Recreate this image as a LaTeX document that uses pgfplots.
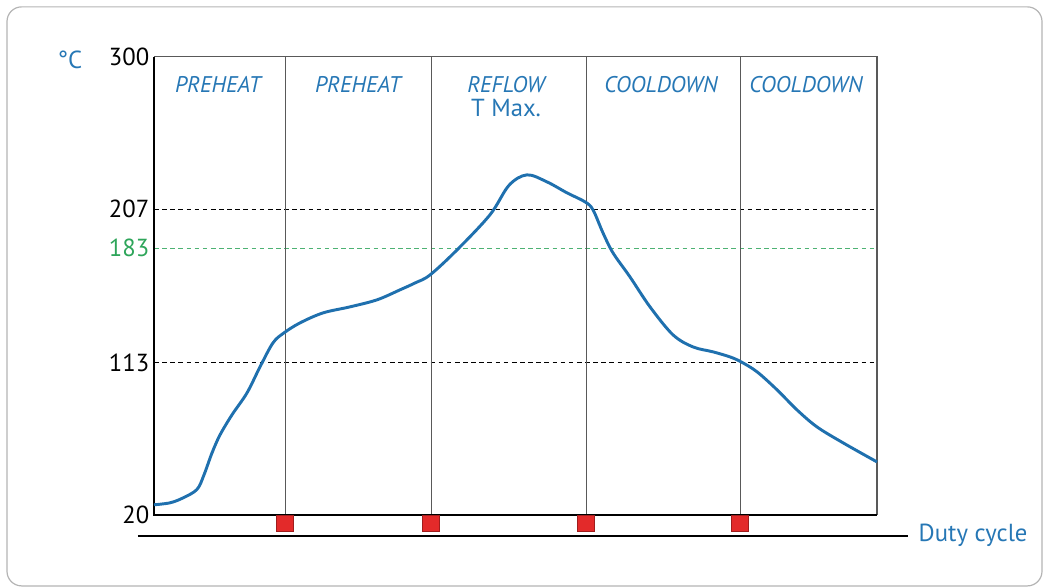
\documentclass[border=0pt]{standalone}
\usepackage{fontspec}
\setmainfont{PT Sans}
\usepackage{pgfplots}
\pgfplotsset{compat=1.18}

\definecolor{curveblue}{HTML}{1F70AE}
\definecolor{textblue}{HTML}{2677B5}
\definecolor{liquidus}{HTML}{2EA55A}
\definecolor{padred}{HTML}{E32A2A}
\definecolor{framegray}{HTML}{B4B4B4}
\newcommand\lab{\fontsize{18.5pt}{22pt}\selectfont}
\newcommand\zone{\fontsize{17pt}{20pt}\selectfont\itshape}

\begin{document}
\begin{tikzpicture}
\begin{axis}[
  scale only axis,
  width=542.25pt, height=343.5pt,
  xmin=0, xmax=723, ymin=20, ymax=300,
  clip=false,
  axis line style={draw=none},
  xtick=\empty,
  ytick={20,113,183,207,300},
  yticklabels={20,113,{\color{liquidus}183},207,300},
  major tick length=0pt,
  yticklabel style={font=\lab, anchor=east, xshift=0pt},
  /pgf/number format/assume math mode=true,
]
% page area, frame and baseline
\path (axis cs:-154,334.8) rectangle (axis cs:895,-24.6);
\draw[framegray, line width=0.9pt, rounded corners=11pt]
  (axis cs:-147,330.6) rectangle (axis cs:888,-23.4);
\draw[line width=1.5pt] (axis cs:-16,7.2) -- (axis cs:754,7.2);
\node[anchor=west, text=textblue, font=\lab] at (axis cs:760,7.8) {Duty cycle};
\node[text=textblue, font=\lab] at (axis cs:-84,298.5) {°C};

% reference temperatures
\draw[black, line width=0.6pt, dash pattern=on 3.5pt off 2.6pt] (axis cs:0,207) -- (axis cs:723,207);
\draw[black, line width=0.6pt, dash pattern=on 3.5pt off 2.6pt] (axis cs:0,113) -- (axis cs:723,113);
\draw[liquidus!85, line width=0.6pt, dash pattern=on 3.5pt off 2.6pt] (axis cs:0,183) -- (axis cs:723,183);

% zone separators
\draw[black!65, line width=0.7pt] (axis cs:131,20) -- (axis cs:131,300);
\draw[black!65, line width=0.7pt] (axis cs:277,20) -- (axis cs:277,300);
\draw[black!65, line width=0.7pt] (axis cs:432,20) -- (axis cs:432,300);
\draw[black!65, line width=0.7pt] (axis cs:586,20) -- (axis cs:586,300);

% axis box
\draw[black!65, line width=0.8pt] (axis cs:0,300) -- (axis cs:723,300) -- (axis cs:723,20);
\draw[black, line width=1.4pt] (axis cs:0,300) -- (axis cs:0,20) -- (axis cs:723,20);

% zone names
\node[text=textblue, font=\zone] at (axis cs:64,282.9) {PREHEAT};
\node[text=textblue, font=\zone] at (axis cs:204,282.9) {PREHEAT};
\node[text=textblue, font=\zone] at (axis cs:352,282.9) {REFLOW};
\node[text=textblue, font=\lab] at (axis cs:352,268.6) {T Max.};
\node[text=textblue, font=\zone] at (axis cs:507,282.9) {COOLDOWN};
\node[text=textblue, font=\zone] at (axis cs:652,282.9) {COOLDOWN};

% temperature profile
\addplot[curveblue, line width=2.2pt, smooth, tension=0.55] coordinates {
  (0,26.2) (16,27.4) (29,30.4) (43,35.6) (50,44.5) (58,57.9) (66,68.9)
  (78,81.2) (93,94.6) (106,110.5) (119,125.2) (130,131.3) (146,137.4)
  (169,143.5) (196,147.2) (223,151.5) (246,157.6) (261,161.8) (276,166.7)
  (303,182.0) (336,203.5) (355,221.5) (373,227.9) (393,223.6) (413,216.9)
  (431,211.4) (439,206.5) (449,192.4) (459,180.2) (476,165.5) (496,147.2)
  (519,130.1) (539,122.7) (559,119.7) (576,116.6) (587,113.6) (603,107.5)
  (623,96.5) (643,84.2) (663,73.8) (689,64.1) (723,52.4)
};

% heater switching points
\addplot[only marks, mark=square*, mark size=6pt,
  mark options={fill=padred, draw=padred!70!black, line width=0.4pt, xscale=1.06}]
  coordinates {(131,15.1) (277,15.1) (432,15.1) (586,15.1)};
\end{axis}
\end{tikzpicture}
\end{document}
